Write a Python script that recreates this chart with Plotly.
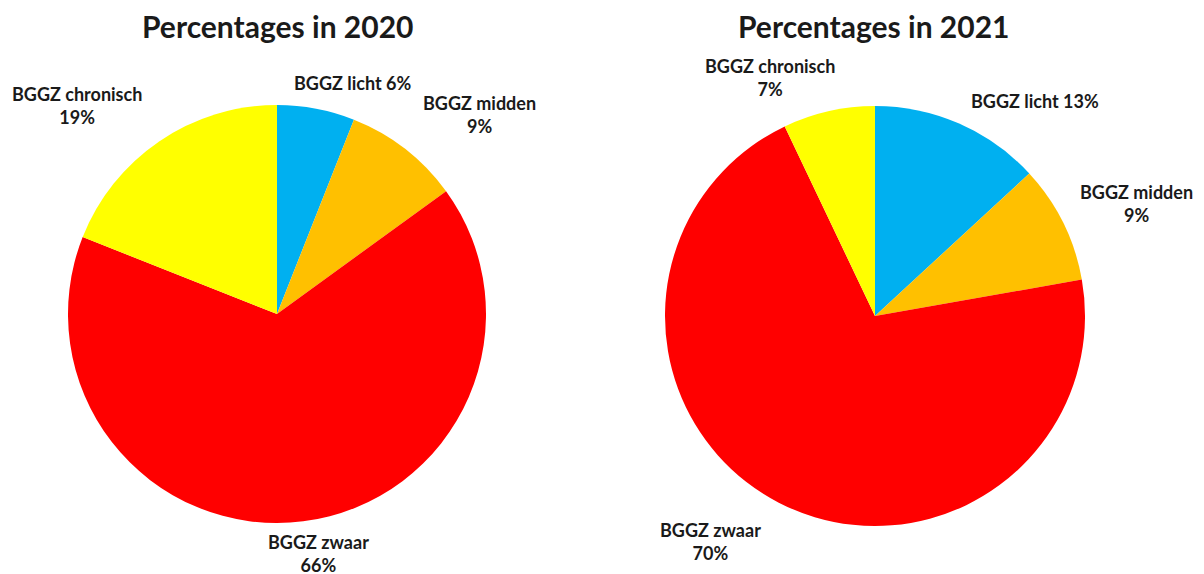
import plotly.graph_objects as go

categories = ["BGGZ licht", "BGGZ midden", "BGGZ zwaar", "BGGZ chronisch"]
values_2020 = [6, 9, 66, 19]
values_2021 = [13, 9, 70, 7]
colors = ["#00B0F0", "#FFC000", "#FF0000", "#FFFF00"]
titles = ["Percentages in 2020", "Percentages in 2021"]

W, H = 1204, 574
OFF = 8  # page body margin offset
FONT = "Lato"


def fx(x):
    return (x - OFF) / W


def fy(y):
    return 1 - (y - OFF) / H


fig = go.Figure()
pies = [(277, 314, 209), (875, 316, 210)]
for vals, (cx, cy, r) in zip([values_2020, values_2021], pies):
    dom = dict(x=[fx(cx - r), fx(cx + r)], y=[fy(cy + r), fy(cy - r)])
    fig.add_trace(go.Pie(
        labels=categories, values=vals, sort=False, direction="clockwise",
        rotation=0, marker=dict(colors=colors, line=dict(width=0)),
        textinfo="none", hoverinfo="label+percent", domain=dom,
        showlegend=False,
    ))

ann = []
for t, cx in zip(titles, [277, 873]):
    ann.append(dict(text="<b>%s</b>" % t, x=fx(cx), y=fy(26), font=dict(size=30)))

labels = [
    ("BGGZ chronisch<br>19%", 77, 105),
    ("BGGZ licht 6%", 353, 83),
    ("BGGZ midden<br>9%", 479, 114),
    ("BGGZ zwaar<br>66%", 318, 553),
    ("BGGZ chronisch<br>7%", 770, 77),
    ("BGGZ licht 13%", 1035, 101),
    ("BGGZ midden<br>9%", 1136, 203),
    ("BGGZ zwaar<br>70%", 710, 541),
]
for t, cx, cy in labels:
    ann.append(dict(text="<b>%s</b>" % t, x=fx(cx), y=fy(cy), font=dict(size=18)))

for a in ann:
    a.update(xref="paper", yref="paper", showarrow=False, xanchor="center",
             yanchor="middle", align="center")
    a["font"].update(family=FONT, color="#1a1a1a")

fig.update_layout(
    width=W, height=H, margin=dict(l=0, r=0, t=0, b=0),
    paper_bgcolor="white", plot_bgcolor="white",
    annotations=ann, font=dict(family=FONT),
)
fig.write_html("out.html")
